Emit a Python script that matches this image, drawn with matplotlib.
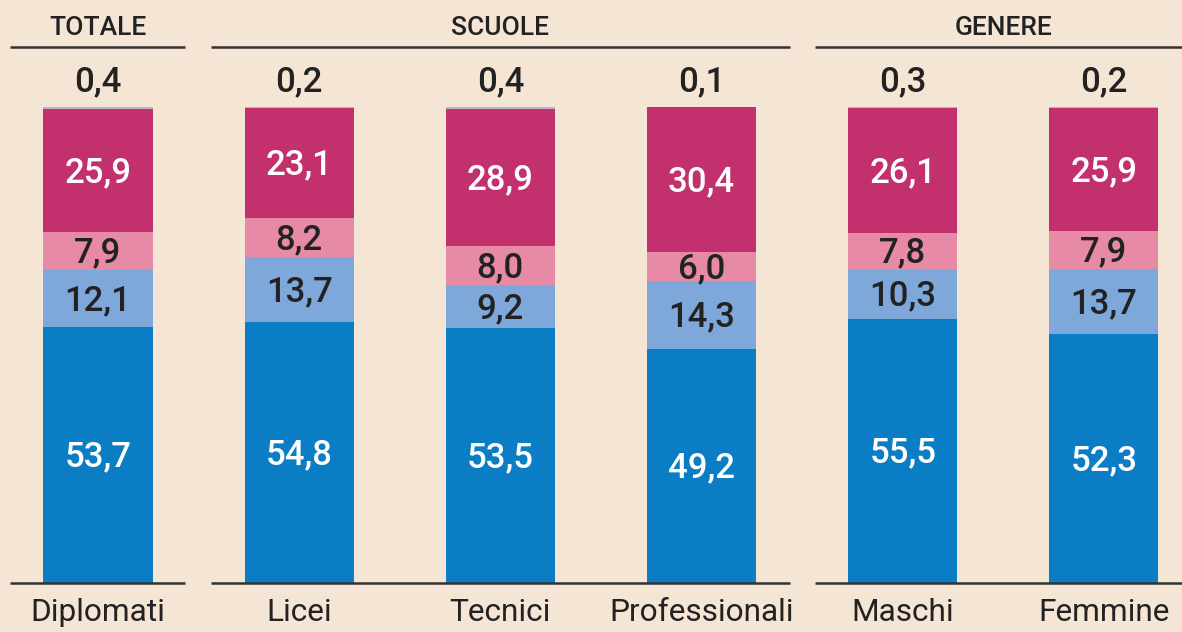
import numpy as np
import matplotlib
matplotlib.use("Agg")
import matplotlib.pyplot as plt

plt.rcParams['font.family'] = ['Roboto', 'DejaVu Sans']

categorie = ["Diplomati", "Licei", "Tecnici", "Professionali", "Maschi", "Femmine"]
serie_1 = [53.7, 54.8, 53.5, 49.2, 55.5, 52.3]
serie_2 = [12.1, 13.7, 9.2, 14.3, 10.3, 13.7]
serie_3 = [7.9, 8.2, 8.0, 6.0, 7.8, 7.9]
serie_4 = [25.9, 23.1, 28.9, 30.4, 26.1, 25.9]
serie_5 = [0.4, 0.2, 0.4, 0.1, 0.3, 0.2]

gruppi = ["TOTALE", "SCUOLE", "GENERE"]
# estremi delle linee dei gruppi (in unita' di categoria)
gruppi_x = [(-0.437, 0.432), (0.562, 3.44), (3.564, 5.40)]
gruppi_centro = [0.0, 2.0, 4.5]

sfondo = "#F5E5D5"
colori = ["#0A7DC4", "#7EA8D9", "#E68AA6", "#C3306E", "#B9B3C2"]
col_testo = ["white", "#222222", "#222222", "white"]
testo_scuro = "#222222"

fig = plt.figure(figsize=(11.82, 6.32), dpi=100)
fig.patch.set_facecolor(sfondo)
ax = fig.add_axes([0, 0, 1, 1])
ax.set_facecolor(sfondo)

x = np.arange(len(categorie))
larghezza = 0.542
serie = [serie_1, serie_2, serie_3, serie_4, serie_5]
base = np.zeros(len(categorie))
for i, valori in enumerate(serie):
    valori = np.array(valori)
    ax.bar(x, valori, larghezza, bottom=base, color=colori[i], linewidth=0)
    for xi, b, v in zip(x, base, valori):
        testo = f"{v:.1f}".replace(".", ",")
        if i < 4:
            ax.text(xi, b + v / 2 - 0.4, testo, ha="center", va="center",
                    fontsize=25, fontweight="medium", color=col_testo[i])
        else:
            ax.text(xi, 105.4, testo, ha="center", va="center",
                    fontsize=25, fontweight="medium", color=testo_scuro)
    base = base + valori

for nome, (x0, x1), xc in zip(gruppi, gruppi_x, gruppi_centro):
    ax.plot([x0, x1], [112.6, 112.6], color="#333333", lw=1.8, solid_capstyle="butt")
    ax.plot([x0, x1], [0, 0], color="#333333", lw=1.8, solid_capstyle="butt")
    ax.text(xc, 116.7, nome, ha="center", va="center", fontsize=19,
            fontweight="medium", color=testo_scuro)

for xi, nome in zip(x, categorie):
    ax.text(xi, -6.2, nome, ha="center", va="center", fontsize=22.8,
            color=testo_scuro)

ax.set_xlim(-0.487, 5.388)
ax.set_ylim(-10.29, 122.48)
ax.axis("off")

fig.savefig("out.png", dpi=100, facecolor=sfondo)
